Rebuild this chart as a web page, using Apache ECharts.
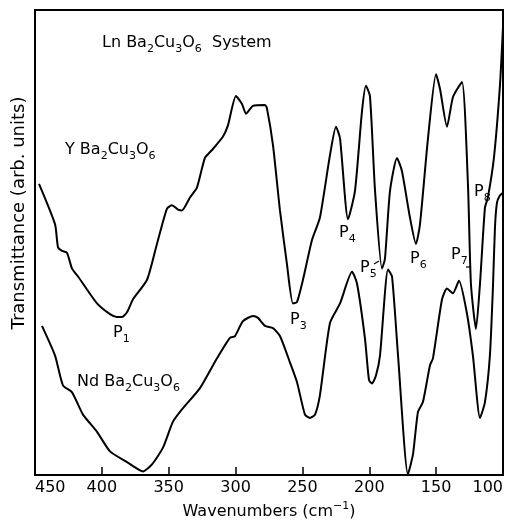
<!DOCTYPE html>
<html>
<head>
<meta charset="utf-8">
<style>
  html, body { margin: 0; padding: 0; background: #fff; }
  #chart { width: 507px; height: 525px; }
</style>
<script src="https://cdn.jsdelivr.net/npm/echarts@6/dist/echarts.min.js"></script>
</head>
<body>
<div id="chart"></div>
<script>
// wavenumber (cm-1) and transmittance (arb. units, 0-100)
const yWn = [447.0, 435.0, 432.8, 429.8, 426.1, 422.3, 417.8, 403.6, 393.9, 388.7, 384.9, 381.2, 376.7, 366.2, 358.8, 351.3, 347.6, 343.1, 340.1, 334.1, 328.9, 322.9, 317.6, 309.4, 305.7, 299.7, 295.2, 292.2, 287.0, 278.0, 276.5, 272.0, 266.8, 261.6, 257.1, 254.1, 249.6, 242.9, 236.9, 229.4, 224.9, 221.9, 215.9, 210.7, 205.5, 202.5, 199.5, 195.7, 190.5, 188.3, 184.5, 179.3, 175.6, 169.6, 165.1, 162.1, 156.1, 150.1, 147.1, 141.9, 137.4, 130.7, 126.2, 124.0, 120.2, 117.2, 113.5, 111.3, 106.8, 102.3, 100.0];
const yT  = [62.6, 53.9, 49.0, 48.2, 47.8, 44.4, 42.7, 36.9, 34.6, 34.0, 34.0, 35.0, 37.8, 42.0, 49.7, 57.3, 58.0, 57.1, 56.9, 59.7, 61.8, 68.2, 69.9, 72.8, 75.2, 81.5, 79.8, 77.7, 79.4, 79.6, 78.8, 70.9, 56.9, 45.4, 36.9, 37.2, 42.0, 50.5, 55.4, 68.8, 74.9, 72.4, 55.0, 61.1, 78.1, 83.7, 81.5, 61.1, 44.4, 46.5, 61.1, 68.2, 65.4, 55.4, 49.7, 53.9, 72.4, 86.2, 83.0, 74.9, 81.3, 84.5, 62.4, 41.2, 31.4, 41.2, 57.5, 59.7, 68.2, 83.7, 96.4];

const ndWn = [444.8, 435.0, 429.1, 422.3, 414.1, 403.6, 393.9, 381.2, 369.2, 362.5, 354.3, 346.8, 339.3, 326.6, 313.9, 304.2, 300.4, 294.5, 287.0, 283.2, 278.0, 272.0, 266.8, 259.3, 254.1, 248.1, 244.4, 240.6, 236.9, 229.4, 221.9, 212.9, 209.2, 203.2, 200.2, 198.0, 195.0, 192.0, 186.0, 183.0, 178.5, 171.1, 167.3, 163.6, 159.9, 154.6, 152.4, 145.6, 141.9, 137.4, 132.9, 127.0, 122.5, 117.2, 113.5, 109.8, 107.5, 106.0, 104.5, 102.3, 100.0];
const ndT  = [32.1, 25.7, 19.3, 17.8, 13.0, 9.3, 5.1, 2.8, 0.8, 2.3, 5.9, 11.5, 14.4, 18.7, 25.1, 29.5, 29.9, 33.1, 34.2, 33.8, 32.1, 31.6, 29.9, 24.2, 20.0, 13.0, 12.3, 13.0, 17.2, 32.7, 36.9, 43.7, 41.2, 29.3, 20.4, 19.7, 21.4, 25.7, 44.2, 42.7, 25.7, 0.2, 4.5, 13.6, 15.7, 23.6, 25.1, 37.8, 40.1, 39.1, 41.8, 34.8, 25.7, 12.3, 15.7, 25.7, 40.6, 53.3, 58.6, 60.1, 60.7];

const xTicks = [450, 400, 350, 300, 250, 200, 150, 100];

const FONT = 'DejaVu Sans';

function pairs(xs, ys) {
  return xs.map((x, i) => [x, ys[i]]);
}

// rich text with subscripts
const rich = {
  a: { fontSize: 16, fontFamily: FONT, lineHeight: 24, fill: '#000', color: '#000' },
  s: { fontSize: 11, fontFamily: FONT, lineHeight: 11, verticalAlign: 'bottom', fill: '#000', color: '#000' }
};

function label(x, y, text) {
  return {
    type: 'text',
    x: x,
    y: y,
    style: { text: text, rich: rich, fill: '#000', align: 'left', verticalAlign: 'middle' }
  };
}

const chart = echarts.init(document.getElementById('chart'));

const option = {
  animation: false,
  backgroundColor: '#fff',
  grid: {
    left: 35, right: 4, top: 10, bottom: 44,
    show: true, borderColor: '#000', borderWidth: 2
  },
  xAxis: {
    type: 'value',
    min: 100, max: 450, interval: 50,
    inverse: true,
    axisLine: { show: false },
    axisTick: { show: true, inside: true, length: 8, lineStyle: { color: '#000', width: 1.5 } },
    axisLabel: {
      color: '#000', fontSize: 16, fontFamily: FONT, margin: 5,
      alignMinLabel: 'right', alignMaxLabel: 'left',
      formatter: v => (xTicks.indexOf(v) >= 0 ? String(v) : '')
    },
    splitLine: { show: false },
    name: '{a|Wavenumbers (cm}{p|−1}{a|)}',
    nameLocation: 'middle',
    nameGap: 20,
    nameTextStyle: {
      rich: {
        a: { fontSize: 16, fontFamily: FONT, color: '#000', lineHeight: 22 },
        p: { fontSize: 11, fontFamily: FONT, color: '#000', lineHeight: 11, verticalAlign: 'top' }
      }
    }
  },
  yAxis: {
    type: 'value',
    min: 0, max: 100,
    axisLine: { show: false },
    axisTick: { show: false },
    axisLabel: { show: false },
    splitLine: { show: false }
  },
  series: [
    {
      name: 'YBa2Cu3O6', type: 'line', data: pairs(yWn, yT),
      showSymbol: false, smooth: 0.2,
      lineStyle: { color: '#000', width: 2 }
    },
    {
      name: 'NdBa2Cu3O6', type: 'line', data: pairs(ndWn, ndT),
      showSymbol: false, smooth: 0.2,
      lineStyle: { color: '#000', width: 2 }
    }
  ],
  graphic: [
    {
      type: 'text', x: 19, y: 213, rotation: Math.PI / 2,
      style: {
        text: 'Transmittance (arb. units)', fill: '#000',
        font: '18px "DejaVu Sans"', align: 'center', verticalAlign: 'middle'
      }
    },
    label(102, 43, '{a|Ln Ba}{s|2}{a|Cu}{s|3}{a|O}{s|6}{a|  System}'),
    label(65, 150, '{a|Y Ba}{s|2}{a|Cu}{s|3}{a|O}{s|6}'),
    label(77, 382, '{a|Nd Ba}{s|2}{a|Cu}{s|3}{a|O}{s|6}'),
    label(113, 333, '{a|P}{s|1}'),
    label(290, 320, '{a|P}{s|3}'),
    label(339, 233, '{a|P}{s|4}'),
    label(360, 268, '{a|P}{s|5}'),
    label(410, 259, '{a|P}{s|6}'),
    label(451, 255, '{a|P}{s|7}'),
    label(474, 192, '{a|P}{s|8}'),
    // small leader lines next to P5 and P7
    { type: 'line', shape: { x1: 374, y1: 264, x2: 379, y2: 261 }, style: { stroke: '#000', lineWidth: 1.2 } },
    { type: 'line', shape: { x1: 466, y1: 267, x2: 470, y2: 267 }, style: { stroke: '#000', lineWidth: 1.2 } }
  ]
};

chart.setOption(option);
</script>
</body>
</html>
